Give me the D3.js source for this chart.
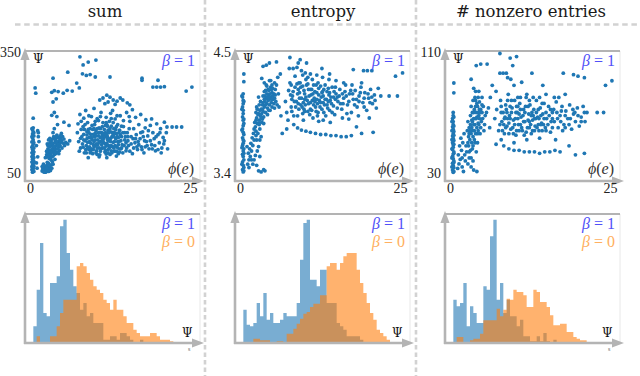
<!DOCTYPE html>
<html>
<head>
<meta charset="utf-8">
<script src="https://cdn.jsdelivr.net/npm/d3@7"></script>
<style>
body { margin: 0; background: #fff; }
</style>
</head>
<body>
<svg width="640" height="376"></svg>
<script>
// ---- data ----
let titles = ["sum", "entropy", "# nonzero entries"];
let yDomains = [[50, 350], [3.4, 4.5], [30, 110]];
let yTickLabels = [["50", "350"], ["3.4", "4.5"], ["30", "110"]];
let xTicks = [0, 25];

let sumPoints = [
  [0.4,52],[0.5,55],[0.3,58],[0.5,61],[0.4,64],[0.6,67],[0.4,70],[0.5,73],[0.3,77],[0.5,80],[0.4,84],[0.6,88],[0.4,92],[0.5,96],
  [0.3,100],[0.5,104],[0.4,108],[0.6,112],[0.4,117],[0.5,122],[0.3,127],[0.5,132],[0.4,137],[0.6,142],[0.4,147],[0.5,152],[0.4,157],
  [0.5,162],[0.5,186],[0.8,261],[0.9,248],
  [0.6,54],[0.3,66],[0.6,79],[0.3,90],[0.6,102],[0.3,114],[0.6,125],[0.3,140],[0.6,150],[0.3,160],
  [1.1,62],[1.0,75],[1.2,90],[1.0,118],[1.3,140],[1.2,155],[1.4,128],
  [1.9,55],[2.2,58],[2.5,53],[2.8,60],[2.3,65],[2.6,68],[3.0,64],[3.3,70],[2.9,74],[3.5,78],[2.1,72],[3.2,56],
  [2.4,62],[2.7,56],[3.1,60],[2.4,52],
  [2.6,95],[2.9,100],[3.2,97],[3.5,104],[2.8,110],[3.1,115],[3.4,108],[3.8,112],[4.1,118],[3.6,122],[3.9,126],[4.3,124],[4.6,130],
  [4.0,133],[3.3,128],[4.4,138],[4.8,135],[5.1,140],[4.2,144],[3.7,140],[2.9,132],[3.0,86],[3.4,90],[3.8,96],[4.2,102],[4.6,106],
  [5.0,112],[5.4,118],[4.5,114],[3.3,82],[2.7,122],[5.6,126],[6.2,130],[5.9,122],[4.9,148],[3.6,150],[3.8,160],[4.3,170],
  [2.7,100],[3.0,106],[3.3,118],[3.6,112],[3.9,104],[4.2,128],[4.5,120],[4.8,126],[3.1,124],[3.5,134],[4.0,110],[4.7,142],
  [3.2,88],[3.7,100],
  [3.4,193],[3.8,200],[4.2,190],[5.3,176],[6.1,168],[3.6,226],[4.1,234],[3.4,250],[3.8,254],[4.4,252],[5.2,248],[5.8,255],
  [6.6,253],[7.3,273],[7.7,261],[3.6,285],[5.9,300],[1.3,150],
  [7.8,338],[9.1,325],[10.3,330],[8.3,318],[8.2,296],[8.8,292],[9.4,294],[10.2,288],[12.5,288],[17.5,285],[17.5,280],[19.2,263],
  [19.8,263],[20.4,263],[21.0,264],[20.0,280],[24.4,253],[25.3,263],
  [10.9,231],[11.4,236],[12.0,243],[12.5,238],[13.0,231],[13.6,228],[14.1,236],[14.5,231],[15.2,224],[15.6,219],[12.2,226],
  [11.7,222],[13.3,220],
  [7.4,150],[7.6,128],[7.9,112],[8.1,140],[8.3,165],[8.5,100],[8.6,130],[8.8,118],[8.9,152],[9.0,175],[9.2,108],[9.3,138],
  [9.4,160],[9.5,124],[9.6,190],[9.8,98],[9.9,146],[10.0,115],[10.1,170],[10.2,132],[10.3,155],[10.4,105],[10.5,185],[10.6,120],
  [10.7,142],[10.8,162],[10.9,95],[11.0,128],[11.1,200],[11.2,150],[11.3,112],[11.4,175],[11.5,136],[11.6,158],[11.7,102],
  [11.8,122],[11.9,188],[12.0,145],[12.1,166],[12.2,108],[12.3,130],[12.4,178],[12.5,96],[12.6,152],[12.7,118],[12.8,140],
  [12.9,205],[13.0,126],[13.1,160],[13.2,104],[13.3,184],[13.4,135],[13.5,148],[13.6,114],[13.7,170],[13.8,98],[13.9,128],
  [14.0,156],[14.1,192],[14.2,110],[14.3,140],[14.4,120],[9.1,88],[10.8,90],[12.0,88],[13.5,92],[8.0,178],[7.8,195],[8.7,205],
  [10.0,210],[12.6,198],[9.7,133],[11.3,143],[10.4,122],[12.2,156],[11.9,117],
  [8.2,122],[8.4,146],[8.7,108],[8.9,135],[9.1,158],[9.3,115],[9.5,146],[9.7,168],[9.9,120],[10.1,140],[10.3,100],[10.5,160],
  [10.6,132],[10.9,150],[11.1,110],[11.3,165],[11.5,125],[11.7,140],[11.9,97],[12.1,133],[12.3,118],[12.5,160],[12.7,105],
  [12.9,150],[13.1,140],[13.3,118],[13.5,165],[13.7,128],[13.9,110],[14.1,145],[8.5,158],[9.0,126],[9.6,110],[10.2,148],
  [10.8,112],[11.4,130],[12.0,170],[12.6,128],[13.2,150],[13.8,138],[9.4,100],[10.7,180],[11.8,150],[12.9,115],[10.0,160],
  [11.0,138],[12.2,100],[13.0,175],[14.3,166],[14.5,100],
  [14.6,165],[14.8,132],[15.0,105],[15.2,150],[15.4,118],[15.6,178],[15.8,140],[16.0,98],[16.2,160],[16.4,125],[16.6,145],
  [16.8,108],[17.0,170],[17.2,135],[17.4,115],[17.6,152],[17.8,100],[18.0,162],[18.2,128],[18.4,142],[18.6,110],[18.8,168],
  [19.0,120],[19.2,150],[19.4,135],[19.6,105],[19.8,172],[20.0,145],[20.2,125],[20.4,160],[20.6,112],[20.8,138],[21.0,176],
  [21.3,150],[21.5,110],[21.4,164],[22.2,164],[22.9,164],[23.7,164],[16.5,188],[17.3,195],[18.1,182],[15.1,200],[16.0,207],[19.0,184],
  [15.0,125],[15.5,160],[16.1,135],[16.7,115],[17.3,150],[17.9,130],[18.5,155],[19.1,110],[19.7,140],[20.3,150],[20.9,122],
  [15.3,140],[16.9,128],[18.3,118],[14.8,150],[17.7,140]
];
let sumPointsDense = [
  [7.7,104],[7.9,136],[8.0,158],[8.3,114],[8.4,132],[8.6,170],[8.8,100],[8.9,144],[9.0,112],[9.2,150],[9.3,128],[9.5,105],
  [9.6,138],[9.8,158],[9.9,108],[10.0,128],[10.2,118],[10.3,142],[10.5,96],[10.5,112],[10.7,150],[10.8,126],[11.0,104],
  [11.0,160],[11.2,120],[11.3,134],[11.5,148],[11.6,112],[11.8,168],[11.8,106],[12.0,124],[12.1,140],[12.3,150],[12.4,112],
  [12.6,136],[12.7,166],[12.8,100],[13.0,145],[13.1,112],[13.2,128],[13.4,158],[13.5,104],[13.6,140],[13.8,120],[13.9,150],
  [14.0,102],[14.2,130],[14.3,112],[14.5,150],[14.7,118],[14.9,140],[15.1,112],[15.3,130],[15.6,104],[15.8,122],[16.2,112],
  [16.5,135],[17.0,120],[17.5,108],[18.0,115],[18.8,130],[19.5,118],[20.5,100],[21.0,130],[20.0,108],
  [2.4,88],[2.6,104],[2.8,118],[3.0,94],[3.1,136],[3.3,102],[3.4,122],[3.6,92],[3.7,116],[3.9,134],[4.0,98],[4.1,140],
  [4.3,110],[4.4,120],[4.7,118],[4.9,130],[5.2,124],[5.3,134],[2.0,60],[2.2,52],[2.6,62],[2.9,54],[3.1,68],[3.4,62],[2.7,76],
  [1.9,66],[3.6,72],[3.9,84],[2.8,90],[4.5,98],
  [8.4,186],[9.2,192],[10.2,178],[11.0,190],[11.9,175],[12.7,185],[13.6,192],[14.6,180],[15.5,190],[7.5,172]
];

let entropyPoints = [
  [0.5,3.41],[0.4,3.43],[0.6,3.45],[0.5,3.47],[0.4,3.50],[0.6,3.52],[0.5,3.55],[0.4,3.57],[0.5,3.60],[0.6,3.62],[0.4,3.65],
  [0.5,3.67],[0.5,3.70],[0.4,3.72],[0.6,3.75],[0.5,3.77],[0.4,3.80],[0.5,3.83],[0.6,3.85],[0.5,3.88],[0.4,3.91],[0.5,3.94],
  [0.5,3.97],[0.4,4.00],[0.5,4.03],[0.5,4.06],[0.4,4.09],[0.5,4.12],[0.6,4.30],[0.6,4.23],
  [0.6,3.42],[0.3,3.48],[0.6,3.58],[0.3,3.63],[0.6,3.69],[0.3,3.79],[0.6,3.89],[0.3,3.98],[0.6,4.05],[0.3,4.10],
  [1.2,3.48],[1.4,3.52],[1.3,3.58],[1.6,3.55],[1.5,3.62],[1.8,3.60],[1.7,3.67],[2.0,3.65],[1.9,3.72],[2.2,3.70],[2.1,3.76],
  [1.4,3.45],[2.5,3.78],[1.1,3.64],[2.9,3.42],[3.3,3.41],[3.7,3.43],[3.9,3.42],[1.8,3.52],
  [2.4,3.82],[2.7,3.85],[2.6,3.90],[3.0,3.88],[2.9,3.94],[3.2,3.92],[3.3,3.98],[3.6,3.96],[3.5,4.02],[3.8,4.00],[3.9,4.05],
  [4.2,4.03],[4.1,4.08],[4.4,4.06],[4.5,4.11],[4.8,4.09],[5.0,4.13],[5.3,4.12],[5.5,4.16],[3.1,3.80],[3.4,3.86],[3.7,3.91],
  [4.0,3.95],[4.3,3.99],[4.6,4.02],[4.9,4.04],[5.2,4.07],[5.6,4.05],[2.8,3.76],[2.5,3.74],[3.3,3.73],[4.7,3.97],[5.4,3.99],
  [5.8,4.02],[6.1,4.00],[6.4,3.92],[2.6,4.00],[2.9,4.09],
  [2.5,3.88],[2.8,3.93],[3.1,3.97],[3.4,3.94],[3.6,4.04],[3.9,4.10],[4.2,4.12],[4.5,4.15],[4.8,4.18],[5.1,4.10],[5.4,4.08],
  [3.0,3.84],[3.5,3.89],[4.3,3.93],[4.6,4.07],[3.8,4.07],[5.0,4.00],[2.2,3.80],[2.6,3.70],
  [3.4,4.26],[3.8,4.22],[4.2,4.19],[4.6,4.24],[5.0,4.20],[5.4,4.22],[4.0,4.15],[4.9,4.16],[3.6,4.37],[4.1,4.38],[4.6,4.40],
  [5.7,4.41],[5.9,4.27],[6.3,4.30],
  [7.8,4.45],[9.4,4.43],[10.4,4.40],[7.7,4.35],[8.3,4.35],[8.9,4.36],[9.6,4.33],[10.2,4.31],[12.8,4.35],[17.7,4.34],[19.3,4.33],
  [19.9,4.33],[20.6,4.33],[24.3,4.28],[25.4,4.31],[9.1,4.40],[8.6,4.28],[10.6,4.27],[14.0,4.30],[11.3,4.25],
  [7.1,4.05],[7.3,3.95],[7.6,4.15],[7.8,4.22],[8.0,4.00],[8.2,4.10],[8.4,3.92],[8.6,4.18],[8.8,4.05],[9.0,4.12],[9.2,3.98],
  [9.4,4.22],[9.6,4.08],[9.8,3.94],[10.0,4.15],[10.2,4.02],[10.4,4.20],[10.6,3.96],[10.8,4.10],[11.0,4.04],[11.2,4.16],[11.4,3.90],
  [11.6,4.08],[11.8,4.00],[12.0,4.13],[12.2,3.95],[12.4,4.06],[12.6,4.19],[12.8,3.98],[13.0,4.10],[13.2,4.02],[13.4,3.92],
  [13.6,4.14],[13.8,4.05],[14.0,3.97],[14.2,4.09],[14.4,4.18],[14.6,4.01],[14.8,3.93],[15.0,4.12],[15.3,4.05],[15.6,4.16],
  [15.9,3.98],[16.2,4.08],[16.5,4.20],[16.8,4.02],[17.1,4.12],[17.4,3.95],[17.7,4.07],[18.0,4.15],[18.3,4.00],[18.6,4.10],
  [18.9,4.18],[19.2,4.04],[19.5,4.13],[19.8,3.97],[20.1,4.08],[20.4,4.16],[20.7,4.03],[21.0,4.11],[21.3,3.99],[8.1,4.07],
  [9.1,4.03],[10.1,4.07],[11.1,4.11],[12.1,4.03],[13.1,4.16],[9.7,4.00],[11.5,4.02],[12.7,4.09],[10.9,3.93],[13.5,4.07],
  [14.9,4.07],[16.0,4.12],[7.5,3.88],[9.9,3.88],[12.3,3.87],[14.1,3.86],[22.0,4.10],[23.3,4.10],[24.6,4.10],[21.6,4.17],
  [18.5,3.92],[16.7,3.94],[20.2,3.90],
  [8.3,4.14],[8.7,4.00],[9.1,4.16],[9.3,4.08],[9.5,4.18],[9.9,4.04],[10.1,4.12],[10.5,4.06],[10.7,4.16],[11.3,4.06],[11.7,4.14],
  [11.9,3.96],[12.3,4.11],[12.5,4.00],[12.9,4.14],[13.3,4.07],[13.7,3.99],[13.9,4.11],[14.3,4.03],[14.7,4.14],[10.0,3.98],
  [11.0,3.98],[12.0,4.07],[13.0,4.04],[14.0,4.13],[15.2,4.09],[15.7,4.03],[16.4,4.14],[17.0,4.05],[17.6,4.12],[18.2,4.07],
  [18.8,4.13],[19.4,4.08],[20.0,4.12],[20.6,4.09],[9.2,4.22],[10.3,4.25],[11.5,4.20],[12.2,4.22],[8.0,4.20],[16.0,3.90],
  [17.0,3.89],[13.0,3.88],
  [8.4,3.84],[9.0,3.81],[9.6,3.79],[10.3,3.78],[11.0,3.77],[11.8,3.76],[12.6,3.75],[13.4,3.75],[14.2,3.74],[15.0,3.74],
  [15.8,3.73],[16.6,3.73],[17.4,3.74],[18.2,3.82],[19.0,3.76],[20.8,3.77],[6.6,3.76],[7.3,3.80]
];
let entropyPointsDense = [
  [2.3,3.86],[2.5,3.95],[2.7,3.98],[2.9,3.85],[3.0,4.02],[3.2,4.05],[3.3,3.90],[3.5,3.98],[3.6,4.10],[3.7,3.85],[3.8,4.14],
  [4.0,4.02],[4.1,4.20],[4.3,4.09],[4.4,4.16],[4.5,3.97],[4.7,4.12],[4.8,4.24],[5.0,4.07],[5.1,4.17],[5.3,4.03],[5.5,4.11],
  [5.7,4.20],[6.0,4.12],[3.1,3.70],[2.9,3.64],[2.7,3.60],[2.4,3.56],[2.2,3.52],[2.0,3.48],[2.6,3.47],[3.1,3.55],
  [7.9,4.11],[8.1,3.96],[8.5,4.05],[8.9,4.21],[9.0,3.92],[9.3,4.13],[9.5,4.02],[9.8,4.19],[10.1,3.96],[10.3,4.09],[10.6,4.21],
  [10.7,4.03],[11.0,4.16],[11.2,3.97],[11.4,4.12],[11.7,4.05],[11.9,4.20],[12.1,3.92],[12.3,4.17],[12.6,4.04],[12.8,4.13],
  [13.1,3.95],[13.3,4.20],[13.6,4.02],[13.8,4.17],[14.1,4.06],[14.4,3.95],[14.6,4.09],[14.9,4.18],[15.2,3.99],[15.5,4.10],
  [16.1,4.03],[16.6,4.10],[17.3,4.15],[17.9,4.02],[18.6,4.05],[19.4,4.00],[20.3,4.04],[21.1,4.06],[15.0,4.24],[13.9,4.25],
  [12.9,4.27],[16.2,4.22],[17.5,4.20],[19.0,4.22],[11.0,4.30],[12.0,4.29],[9.8,4.29]
];

let nonzeroPoints = [
  [0.5,30.5],[0.4,32],[0.6,33.5],[0.5,35],[0.4,36.5],[0.6,38],[0.5,39.5],[0.4,41],[0.5,42.5],[0.6,44],[0.4,45.5],[0.5,47],
  [0.5,48.5],[0.4,50],[0.6,51.5],[0.5,53],[0.4,54.5],[0.5,56],[0.6,57.5],[0.5,59],[0.4,60.5],[0.5,62],[0.5,64],[0.4,66],
  [0.5,68],[0.5,70],[0.6,89.5],[0.6,83],
  [0.6,31],[0.3,34],[0.6,37],[0.3,40],[0.6,43],[0.3,46],[0.6,49],[0.3,52],[0.6,55],[0.3,58],[0.6,61],[0.3,64],[0.6,67],
  [1.2,33],[1.4,36],[1.6,39],[1.3,42],[1.8,45],[1.5,48],[2.0,50],[1.7,53],[2.2,56],[1.9,34],[2.4,38],[2.1,31],[3.7,32],[4.2,31],
  [3.3,34],[2.8,36],[3.0,40],[2.6,44],[2.5,48],[2.3,42],[1.9,40],
  [2.9,48],[3.1,52],[3.3,56],[3.0,60],[3.5,58],[3.7,62],[3.4,65],[3.9,66],[4.1,70],[3.8,72],[4.3,74],[4.5,68],[4.6,77],[4.0,78],
  [4.8,72],[5.0,75],[3.6,54],[4.2,60],[4.4,63],[3.2,68],[2.7,58],[3.9,50],[4.7,56],[5.1,66],[5.4,62],[5.7,70],[6.0,73],[6.2,60],
  [2.8,64],[3.5,46],[4.1,44],[3.3,74],
  [3.0,56],[3.2,62],[3.5,70],[3.7,66],[4.0,74],[4.2,67],[4.4,70],[4.6,72],[3.8,58],[4.3,56],[3.4,50],[4.9,64],[3.6,78],[4.4,80],
  [3.7,86],[5.0,80],[6.3,80],[4.1,101],[4.8,102],[5.8,102],[3.3,92],[6.6,88],[7.2,84],
  [7.8,109],[9.4,106],[10.4,107],[7.8,96],[8.3,96],[8.8,96],[9.0,93],[9.5,92],[12.8,96],[17.7,96],[19.3,95],[20.0,94],[21.0,93],
  [24.3,88],[25.3,91],[10.0,88],[11.2,90],[14.5,88],[9.8,101],
  [7.0,66],[7.3,72],[7.6,58],[7.9,78],[8.1,64],[8.3,70],[8.5,56],[8.7,75],[8.9,61],[9.1,82],[9.3,68],[9.5,59],[9.7,73],[9.9,65],
  [10.1,78],[10.3,55],[10.5,70],[10.7,62],[10.9,76],[11.1,67],[11.3,58],[11.5,72],[11.7,64],[11.9,80],[12.1,60],[12.3,69],
  [12.5,75],[12.7,56],[12.9,65],[13.1,72],[13.3,61],[13.5,78],[13.7,67],[13.9,58],[14.1,73],[14.3,63],[14.5,69],[14.7,76],
  [14.9,60],[15.1,66],[15.4,74],[15.7,57],[16.0,70],[16.3,64],[16.6,77],[16.9,60],[17.2,68],[17.5,74],[17.8,62],[18.1,71],
  [18.4,66],[18.7,75],[19.0,59],[19.3,69],[19.6,64],[19.9,73],[20.2,61],[20.5,67],[20.8,74],[21.1,64],[21.4,70],[23.0,70],
  [24.0,70],[8.0,52],[10.0,50],[12.0,52],[14.0,53],[16.5,52],[9.2,63],[10.8,69],[12.4,64],[11.6,55],[13.8,62],[15.8,64],
  [8.6,67],[10.4,74],[12.8,70],[17.0,80],[18.0,82],[15.0,82],
  [8.0,70],[8.4,62],[8.8,72],[9.0,66],[9.4,74],[9.8,60],[10.2,66],[10.6,74],[11.0,62],[11.4,68],[11.8,74],[12.2,65],[12.6,62],
  [13.0,68],[13.4,66],[13.8,72],[14.2,68],[14.6,62],[15.0,70],[15.5,68],[16.2,72],[16.8,66],[17.4,71],[18.0,68],[18.6,62],
  [19.2,72],[20.0,68],[9.6,78],[11.0,80],[12.4,78],[13.2,58],[10.4,58],[16.0,60],[17.6,58],[14.4,58],
  [8.4,48],[9.2,46],[10.0,45],[10.8,45],[11.6,44],[12.4,44],[13.2,44],[14.0,43],[14.8,44],[15.6,44],[16.4,45],[17.2,44],
  [18.6,48],[19.6,42],[21.0,43],[7.2,49]
];
let nonzeroPointsDense = [
  [2.9,54],[3.1,58],[3.2,45],[3.4,60],[3.5,64],[3.6,48],[3.7,70],[3.8,52],[3.9,62],[4.0,56],[4.1,66],[4.2,76],[4.3,50],
  [4.4,58],[4.5,62],[4.6,66],[4.7,70],[4.8,60],[5.0,70],[5.2,74],[5.3,58],[5.5,68],[3.3,40],[3.6,38],[3.0,44],[2.8,50],
  [4.0,84],[4.5,84],[3.9,80],
  [7.8,62],[8.0,74],[8.2,58],[8.5,66],[8.7,60],[8.9,70],[9.2,56],[9.4,66],[9.6,70],[9.9,56],[10.1,62],[10.3,70],[10.6,66],
  [10.8,58],[11.0,72],[11.2,60],[11.5,64],[11.7,70],[11.9,57],[12.2,74],[12.4,60],[12.7,68],[12.9,58],[13.2,66],[13.5,70],
  [13.6,60],[13.9,66],[14.2,62],[14.4,76],[14.7,66],[15.0,58],[15.3,62],[15.7,72],[16.0,66],[16.7,70],[17.3,64],[18.0,60],
  [18.8,66],[19.5,70],[20.5,64],[21.0,70],[9.0,78],[10.6,80],[12.0,82],[13.0,80],[14.0,80],[16.3,80]
];

// histogram bin counts (bins of equal width, starting at bin 0)
let sumHistBeta1 = [5,16,30,9,8,18,18,20,35,37,27,22,17,15,10,12,8,9,6,6,6,1,1,2,2,1,3,3,2,1,0,0,1,0,0,0,0,0,0,0,0,0];
let sumHistBeta0 = [0,2,0,0,0,2,2,5,9,13,13,13,13,23,24,23,21,19,17,16,15,13,12,10,13,10,10,8,6,6,4,3,2,2,2,3,3,2,1,1,1,0.5];
let entHistBeta1 = [10,5.5,5,6,12,8,15,7,9,6,6,7,9,8,8,8,12,25,36,37,19,19,17,22,22,12,12,12,6,5,4,2,2,2,2,1,0,0,0,0,0,0,0,0,0];
let entHistBeta0 = [0.3,0.3,0.3,1.3,1.3,0.8,0.8,0.8,0.3,0.3,0.5,0.5,0.3,2.8,2.8,4.3,5.8,7.3,8.8,9.3,10.8,11.8,11.8,14.3,14.3,
  23,24,24,22,24,26,27,27,27,22,18,15,12,9,7,4,3,2,1,0.3];
let nzHistBeta1 = [13,11,12,18,5,11,9,6,6,17,16,32,37,13,18,9,13,8,8,5,7,2,2,0.5,0.5,2,0.5,3,0.5,0,1,0,0,0,0,0,0,0,0,0];
let nzHistBeta0 = [0.3,1.8,1.8,0.3,0.3,0.8,1.3,1.3,2.8,6.8,6.8,6.8,6.8,10.3,8,10,13.3,13,16,15.3,15.3,14.3,10.8,10.8,16,15.3,
  12.3,12.3,10.8,8.3,5.3,5.3,5.8,5.8,3.3,3.3,1.8,1.3,0.8,0.8];

let scatterData = [sumPoints.concat(sumPointsDense), entropyPoints.concat(entropyPointsDense),
  nonzeroPoints.concat(nonzeroPointsDense)];
let histData = [[sumHistBeta1, sumHistBeta0], [entHistBeta1, entHistBeta0], [nzHistBeta1, nzHistBeta0]];

// ---- layout ----
let panelLeft = [25, 235, 445];
let panelW = 175;
let scat = {top: 51, bottom: 181, y0: 173, y1: 52};
let hist = {top: 214, bottom: 343};
let titleX = [105, 323, 531];
let serif = "'Liberation Serif', 'Times New Roman', serif";
let titleFont = "'DejaVu Serif', serif";

let blue = "#1f77b4", orange = "#ff7f0e";
let axisGrey = "#b4b4b4";

var svg = d3.select("svg");

// dashed separators
svg.append("line")
  .attr("x1", 15).attr("x2", 640).attr("y1", 24.5).attr("y2", 24.5)
  .attr("stroke", "#d2d2d2").attr("stroke-width", 2.6).attr("stroke-dasharray", "5.5,3.7");
[205, 416].forEach(function(x) {
  svg.append("line")
    .attr("x1", x).attr("x2", x).attr("y1", 0).attr("y2", 376)
    .attr("stroke", "#d2d2d2").attr("stroke-width", 2.6).attr("stroke-dasharray", "4.5,3");
});

// titles
titles.forEach(function(t, i) {
  svg.append("text")
    .attr("x", titleX[i]).attr("y", 16.5)
    .attr("text-anchor", "middle")
    .style("font-family", titleFont)
    .style("font-size", "16.5px")
    .attr("fill", "#1a1a1a")
    .text(t);
});

function drawFrame(g, left, top, bottom) {
  let right = left + panelW;
  g.append("line").attr("x1", right).attr("x2", right).attr("y1", top).attr("y2", bottom)
    .attr("stroke", "#e8e8e8").attr("stroke-width", 1);
  g.append("line").attr("x1", left).attr("x2", right).attr("y1", top).attr("y2", top)
    .attr("stroke", "#9a9a9a").attr("stroke-width", 1.6);
  g.append("line").attr("x1", left).attr("x2", left).attr("y1", bottom + 1).attr("y2", top + 6)
    .attr("stroke", axisGrey).attr("stroke-width", 2.6);
  g.append("line").attr("x1", left - 1).attr("x2", right - 4).attr("y1", bottom).attr("y2", bottom)
    .attr("stroke", axisGrey).attr("stroke-width", 2.6);
  g.append("path")
    .attr("d", "M" + left + "," + (top - 3) + "L" + (left - 4.6) + "," + (top + 9) + "L" + (left + 4.6) + "," + (top + 9) + "Z")
    .attr("fill", axisGrey);
  g.append("path")
    .attr("d", "M" + (right + 4) + "," + bottom + "L" + (right - 8) + "," + (bottom - 4.6) + "L" + (right - 8) + "," + (bottom + 4.6) + "Z")
    .attr("fill", axisGrey);
}

function betaLabel(g, x, y, val, color) {
  let t = g.append("text").attr("x", x).attr("y", y).attr("text-anchor", "end")
    .style("font-family", serif).style("font-size", "16px").attr("fill", color);
  t.append("tspan").style("font-style", "italic").text("β");
  t.append("tspan").text(" = " + val);
}

scatterData.forEach(function(points, i) {
  let left = panelLeft[i];
  let g = svg.append("g");

  let x = d3.scaleLinear().domain([0, 25]).range([left + 5, left + 165]);
  let y = d3.scaleLinear().domain(yDomains[i]).range([scat.y0, scat.y1]);

  drawFrame(g, left, scat.top, scat.bottom);

  // y tick labels
  g.append("g")
    .attr("transform", "translate(" + left + ",0)")
    .call(d3.axisLeft(y).tickValues(yDomains[i]).tickSize(0).tickPadding(4)
      .tickFormat(function(d, k) { return yTickLabels[i][k]; }))
    .call(function(a) { a.select(".domain").remove(); })
    .selectAll("text").attr("fill", "#222")
    .style("font-family", serif).style("font-size", "14px");

  // x tick labels
  g.append("g")
    .attr("transform", "translate(0," + scat.bottom + ")")
    .call(d3.axisBottom(x).tickValues(xTicks).tickSize(0).tickPadding(2))
    .call(function(a) { a.select(".domain").remove(); })
    .selectAll("text").attr("fill", "#222")
    .style("font-family", serif).style("font-size", "14px");

  g.append("g").selectAll("circle")
    .data(points)
    .enter().append("circle")
    .attr("cx", function(d) { return x(d[0]); })
    .attr("cy", function(d) { return y(d[1]); })
    .attr("r", 1.9)
    .attr("fill", blue);

  g.append("text").attr("x", left + 8).attr("y", scat.top + 12)
    .style("font-family", titleFont).style("font-size", "12px").attr("fill", "#111").text("Ψ");
  betaLabel(g, left + 170, scat.top + 15, "1", "#5050f8");
  let phi = g.append("text").attr("x", left + 169).attr("y", scat.bottom - 7)
    .attr("text-anchor", "end").style("font-family", serif).style("font-size", "16px").attr("fill", "#333");
  phi.append("tspan").style("font-style", "italic").text("ϕ");
  phi.append("tspan").text("(");
  phi.append("tspan").style("font-style", "italic").text("e");
  phi.append("tspan").text(")");
});

histData.forEach(function(pair, i) {
  let left = panelLeft[i];
  let g = svg.append("g");

  let x = d3.scaleLinear().domain([-2.5, 50]).range([left, left + panelW]);
  let y = d3.scaleLinear().domain([0, 39]).range([hist.bottom, hist.bottom - 130]);

  let area = d3.area()
    .x(function(d) { return x(d.i); })
    .y0(y(0))
    .y1(function(d) { return y(d.c); })
    .curve(d3.curveStepAfter);

  [blue, orange].forEach(function(col, k) {
    let counts = pair[k];
    let pts = counts.map(function(c, j) { return {i: j, c: c}; });
    pts.push({i: counts.length, c: 0});
    g.append("path")
      .datum(pts)
      .attr("d", area)
      .attr("fill", col)
      .attr("fill-opacity", 0.6);
  });

  drawFrame(g, left, hist.top, hist.bottom);

  betaLabel(g, left + 170, hist.top + 15, "1", "#5050f8");
  betaLabel(g, left + 170, hist.top + 33, "0", "#ffb060");
  g.append("text").attr("x", left + 157).attr("y", hist.bottom - 6)
    .style("font-family", titleFont).style("font-size", "12px").attr("fill", "#111").text("Ψ");
  if (i !== 1) {
    g.append("text").attr("x", left + 163).attr("y", hist.bottom + 8)
      .style("font-family", serif).style("font-size", "6px").attr("fill", "#666").text("s");
  }
});
</script>
</body>
</html>
